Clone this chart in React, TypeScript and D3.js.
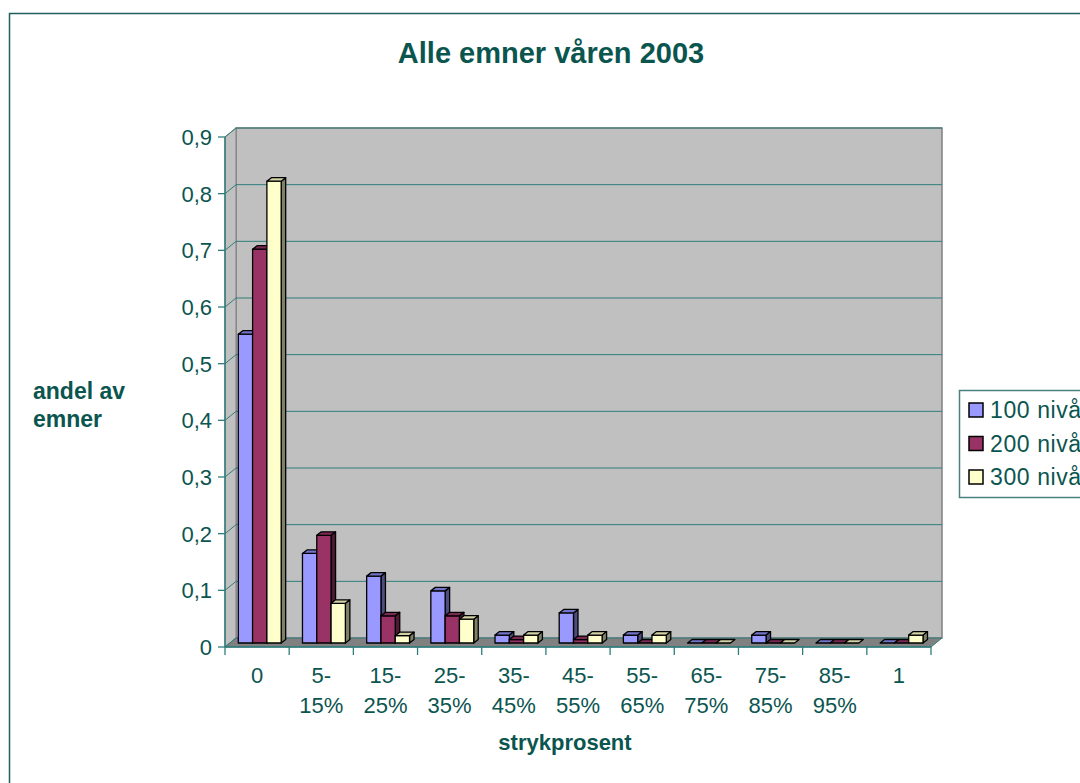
import React from "react";
import * as d3 from "d3";

const categories = ["0", "5-15%", "15-25%", "25-35%", "35-45%", "45-55%", "55-65%", "65-75%", "75-85%", "85-95%", "1"];
const seriesNames = ["100 nivå", "200 nivå", "300 nivå"];
const s100 = [0.545, 0.158, 0.118, 0.092, 0.014, 0.053, 0.014, 0, 0.014, 0, 0];
const s200 = [0.695, 0.19, 0.048, 0.048, 0.006, 0.006, 0, 0, 0, 0, 0];
const s300 = [0.815, 0.07, 0.013, 0.042, 0.014, 0.014, 0.014, 0, 0, 0, 0.014];
const seriesValues = [s100, s200, s300];
const yTickValues = [0, 0.1, 0.2, 0.3, 0.4, 0.5, 0.6, 0.7, 0.8, 0.9];

const palette = [
  { front: "#9999ff", top: "#7373c8", side: "#4d4d80" },
  { front: "#993366", top: "#7a2952", side: "#4d1a33" },
  { front: "#ffffcc", top: "#d2d2a6", side: "#808066" },
];

const TEXT = "#0b554f";
const TEAL = "#2f7d7b";
const FONT = "'Liberation Sans', Arial, sans-serif";

export default function App() {
  const x0 = 225, x1 = 931;
  const dX = 11, dY = 9;
  const cat = d3.scaleBand<string>().domain(categories).range([x0, x1]);
  const y = d3.scaleLinear().domain([0, 0.9]).range([647, 137]);
  const barW = 14.3;
  const fDx = 4.9, fDy = 4;
  const bDx = 4.5, bDy = 3.5;
  const groupW = barW * 3;
  const offset = (cat.bandwidth() - groupW - bDx) / 2;
  const sub = d3.scaleBand<string>().domain(seriesNames).range([0, groupW]);
  const fmt = (v: number) => (v === 0 ? "0" : d3.format(".1f")(v).replace(".", ","));

  const yb0 = y(0);
  const yTopV = y(0.9);

  const bars: React.ReactNode[] = [];
  categories.forEach((c, ci) => {
    seriesNames.forEach((s, si) => {
      const v = seriesValues[si][ci];
      const xl = (cat(c) as number) + offset + (sub(s) as number) + fDx;
      const xr = xl + barW;
      const yb = y(0) - fDy;
      const yt = y(v) - fDy;
      const col = palette[si];
      const pts = (a: number[][]) => a.map((p) => p.join(",")).join(" ");
      bars.push(
        <g key={`${ci}-${si}`} stroke="#000" strokeWidth={1.3} strokeLinejoin="round">
          {yb - yt > 0.3 && (
            <polygon points={pts([[xr, yt], [xr + bDx, yt - bDy], [xr + bDx, yb - bDy], [xr, yb]])} fill={col.side} />
          )}
          {yb - yt > 0.3 && <rect x={xl} y={yt} width={barW} height={yb - yt} fill={col.front} />}
          <polygon points={pts([[xl, yt], [xl + bDx, yt - bDy], [xr + bDx, yt - bDy], [xr, yt]])} fill={col.top} />
        </g>
      );
    });
  });

  const boundaries = d3.range(categories.length + 1).map((i) => x0 + i * cat.bandwidth());

  return (
    <svg width={1080} height={783} style={{ position: "absolute", left: 0, top: 0, background: "#fff" }} fontFamily={FONT}>
      <rect x={9.5} y={13.5} width={1200} height={1000} fill="#fff" stroke="#1f5f5f" strokeWidth={1.5} />
      <text x={551} y={63} textAnchor="middle" fontSize={29} fontWeight="bold" fill={TEXT}>
        Alle emner våren 2003
      </text>

      {/* back wall */}
      <rect x={x0 + dX} y={yTopV - dY} width={x1 - x0} height={yb0 - yTopV} fill="#c0c0c0" stroke="#808080" strokeWidth={1.5} />
      {/* left wall */}
      <polygon
        points={`${x0},${yb0} ${x0},${yTopV} ${x0 + dX},${yTopV - dY} ${x0 + dX},${yb0 - dY}`}
        fill="#c0c0c0"
        stroke="#808080"
        strokeWidth={1}
      />
      {/* gridlines */}
      {yTickValues.filter((v) => v > 0).map((v) => (
        <line key={`g${v}`} x1={x0 + dX} x2={x1 + dX} y1={y(v) - dY} y2={y(v) - dY} stroke={TEAL} strokeWidth={1} />
      ))}
      {yTickValues.map((v) => (
        <line key={`lg${v}`} x1={x0} x2={x0 + dX} y1={y(v)} y2={y(v) - dY} stroke={TEAL} strokeWidth={1} />
      ))}
      {/* floor */}
      <polygon
        points={`${x0},${yb0} ${x1},${yb0} ${x1 + dX},${yb0 - dY} ${x0 + dX},${yb0 - dY}`}
        fill="#808080"
        stroke={TEAL}
        strokeWidth={1}
      />
      {bars}
      {/* axes */}
      <line x1={x0} x2={x0} y1={yTopV} y2={yb0} stroke={TEAL} strokeWidth={1.5} />
      {yTickValues.map((v) => (
        <g key={`yt${v}`}>
          <line x1={x0 - 7} x2={x0} y1={y(v)} y2={y(v)} stroke={TEAL} strokeWidth={1.3} />
          <text x={212} y={y(v)} dy="0.36em" textAnchor="end" fontSize={22} fill={TEXT}>
            {fmt(v)}
          </text>
        </g>
      ))}
      <line x1={x0} x2={x1} y1={yb0} y2={yb0} stroke={TEAL} strokeWidth={1.5} />
      {boundaries.map((bx, i) => (
        <line key={`xt${i}`} x1={bx} x2={bx} y1={yb0} y2={yb0 + 8} stroke={TEAL} strokeWidth={1.3} />
      ))}
      {categories.map((c) => {
        const cx = (cat(c) as number) + cat.bandwidth() / 2;
        const parts = c.includes("-") ? [c.slice(0, c.indexOf("-") + 1), c.slice(c.indexOf("-") + 1)] : [c];
        return (
          <text key={`xl${c}`} textAnchor="middle" fontSize={22} fill={TEXT}>
            {parts.map((p, i) => (
              <tspan key={i} x={cx} y={683 + i * 30}>
                {p}
              </tspan>
            ))}
          </text>
        );
      })}
      <text x={565} y={750} textAnchor="middle" fontSize={22} fontWeight="bold" fill={TEXT}>
        strykprosent
      </text>
      <text fontSize={23} fontWeight="bold" fill={TEXT}>
        <tspan x={33} y={399}>andel av</tspan>
        <tspan x={33} y={427}>emner</tspan>
      </text>

      {/* legend */}
      <rect x={959.5} y={390.5} width={200} height={107} fill="#fff" stroke="#4a8080" strokeWidth={1.5} />
      {seriesNames.map((s, i) => {
        const cy = 410 + i * 33.5;
        return (
          <g key={`lg-${s}`}>
            <rect x={969} y={cy - 7} width={14} height={14} fill={palette[i].front} stroke="#000" strokeWidth={1.5} />
            <text x={990} y={cy} dy="0.36em" fontSize={23} letterSpacing={0.6} fill={TEXT}>
              {s}
            </text>
          </g>
        );
      })}
    </svg>
  );
}
